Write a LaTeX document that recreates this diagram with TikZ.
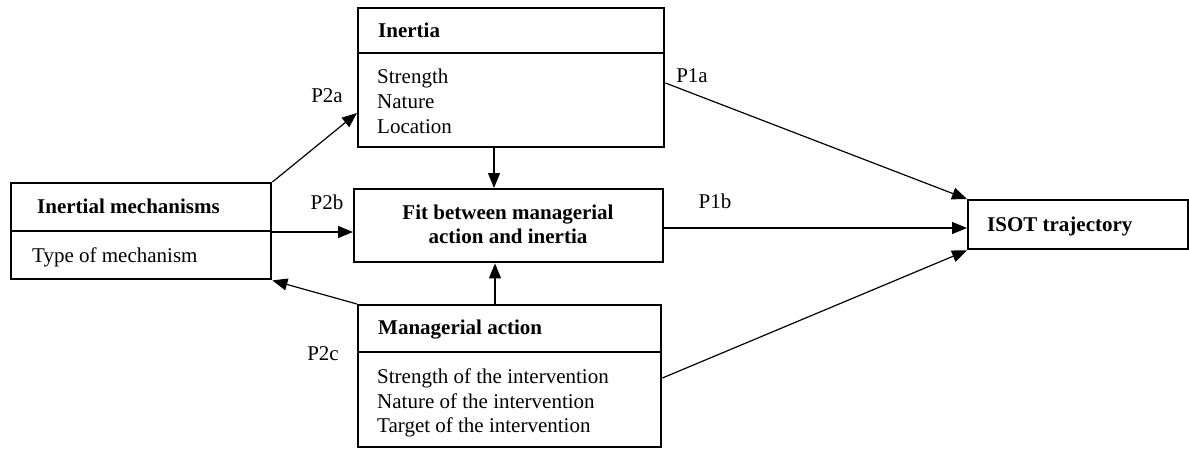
\documentclass[tikz,border=0pt]{standalone}
\usepackage{fontspec}
\setmainfont{Liberation Serif}
\usetikzlibrary{arrows.meta}
\begin{document}
\begin{tikzpicture}[x=1pt,y=-1pt,
 box/.style={draw,line width=2.4pt,inner sep=0pt,anchor=north west},
 divider/.style={line width=2.4pt},
 conn/.style={line width=1.2pt,-{Triangle[length=15pt,width=12pt]}},
 txt/.style={anchor=base west,inner sep=0pt,font=\fontsize{21}{25}\selectfont},
 btxt/.style={anchor=base west,inner sep=0pt,font=\fontsize{21}{25}\selectfont\bfseries},
 lbl/.style={anchor=base,inner sep=0pt,font=\fontsize{21}{25}\selectfont}]
\useasboundingbox (0,0) rectangle (1189,448);
% boxes
\node[box,minimum width=260pt,minimum height=96pt] (im) at (10,182) {};
\node[box,minimum width=306pt,minimum height=139pt] (inr) at (357,7) {};
\node[box,minimum width=309pt,minimum height=73pt] (fit) at (353,188) {};
\node[box,minimum width=303pt,minimum height=142pt] (ma) at (357,304) {};
\node[box,minimum width=220pt,minimum height=49pt] (isot) at (967,199) {};
% dividers
\draw[divider] (im.west |- 0,231) -- (im.east |- 0,231);
\draw[divider] (inr.west |- 0,53) -- (inr.east |- 0,53);
\draw[divider] (ma.west |- 0,352) -- (ma.east |- 0,352);
% texts
\node[btxt] (imt) at (37,213) {Inertial mechanisms};
\node[txt] (imi) at (32,262) {Type of mechanism};
\node[btxt] (inrt) at (378,37) {Inertia};
\node[txt] (inr1) at (377,83) {Strength};
\node[txt] (inr2) at (377,108) {Nature};
\node[txt] (inr3) at (377,133) {Location};
\node[btxt,anchor=base] (fit1) at (508,219) {Fit between managerial};
\node[btxt,anchor=base] (fit2) at (508,243) {action and inertia};
\node[btxt] (mat) at (378,334) {Managerial action};
\node[txt] (ma1) at (377,383) {Strength of the intervention};
\node[txt] (ma2) at (377,408) {Nature of the intervention};
\node[txt] (ma3) at (377,432) {Target of the intervention};
\node[btxt] (isott) at (987,231) {ISOT trajectory};
% labels
\node[lbl] (p2a) at (327,102) {P2a};
\node[lbl] (p2b) at (327,209) {P2b};
\node[lbl] (p2c) at (323,360) {P2c};
\node[lbl] (p1a) at (692,82) {P1a};
\node[lbl] (p1b) at (715,208) {P1b};
% connectors
\draw[conn] (im.north east) -- (inr.west |- 0,113);
\draw[conn] (im.east |- 0,232) -- (fit.west |- 0,232);
\draw[conn] (ma.north west) -- (im.south east);
\draw[conn] (inr.south -| 494,0) -- (fit.north -| 494,0);
\draw[conn] (ma.north -| 495,0) -- (fit.south -| 495,0);
\draw[conn] (inr.east |- 0,83) -- (isot.north west);
\draw[conn] (fit.east |- 0,228) -- (isot.west |- 0,228);
\draw[conn] (ma.east |- 0,378) -- (isot.south west);
\end{tikzpicture}
\end{document}
